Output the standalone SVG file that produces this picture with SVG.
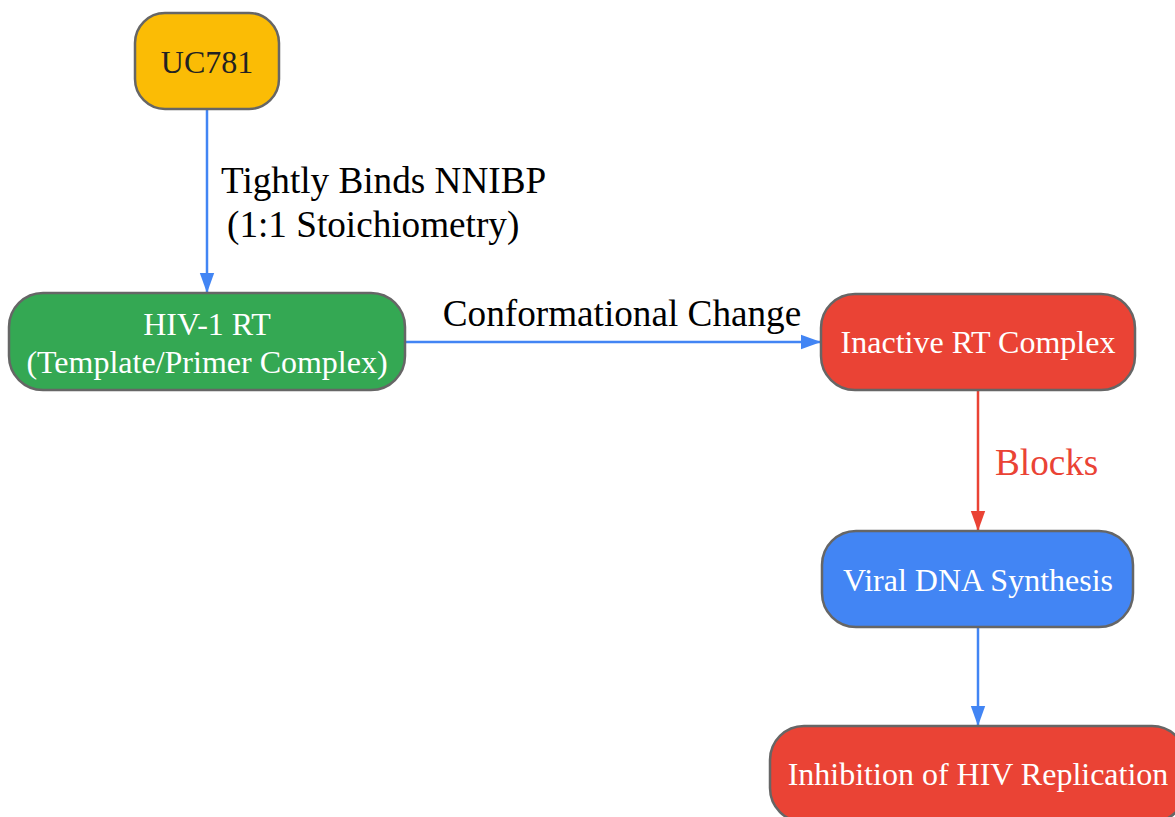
<svg xmlns="http://www.w3.org/2000/svg" width="1175" height="817" viewBox="0 0 1175 817">
<style>
.node rect{stroke:#666666;stroke-width:2.5}
.nt{font-family:"Liberation Serif","Times New Roman",serif;font-size:32px;text-anchor:middle;fill:#ffffff}
.el{font-family:"Liberation Serif","Times New Roman",serif;font-size:37.2px}
.e{fill:none;stroke-width:2.5}
</style>
<defs>
<marker id="ab" markerUnits="userSpaceOnUse" markerWidth="20" markerHeight="26" refX="25" refY="9" viewBox="0 0 25 18" orient="auto"><path d="M0,0 L25,9 L0,18 Z" fill="#4285F4"/></marker>
<marker id="ar" markerUnits="userSpaceOnUse" markerWidth="20" markerHeight="26" refX="25" refY="9" viewBox="0 0 25 18" orient="auto"><path d="M0,0 L25,9 L0,18 Z" fill="#EA4335"/></marker>
</defs>
<rect width="1175" height="817" fill="#ffffff"/>
<g id="connectors">
<path class="e" d="M207,109 L207,293" stroke="#4285F4" marker-end="url(#ab)"/>
<text class="el" x="221" y="193" fill="#000000">Tightly Binds NNIBP</text>
<text class="el" x="227" y="237" fill="#000000">(1:1 Stoichiometry)</text>
<path class="e" d="M405,342 L821,342" stroke="#4285F4" marker-end="url(#ab)"/>
<text class="el" x="622" y="326" text-anchor="middle" fill="#000000">Conformational Change</text>
<path class="e" d="M978,390 L978,531" stroke="#EA4335" marker-end="url(#ar)"/>
<text class="el" x="995" y="475" fill="#EA4335">Blocks</text>
<path class="e" d="M978,627 L978,726" stroke="#4285F4" marker-end="url(#ab)"/>
</g>
<g id="uc781" class="node">
<rect x="135" y="13" width="144" height="96" rx="30" fill="#FBBC05"/>
<text class="nt" x="207" y="73" style="fill:#222222">UC781</text>
</g>
<g id="hiv1rt" class="node">
<rect x="9" y="293" width="396" height="97" rx="34" fill="#34A853"/>
<text class="nt" x="207" y="335">HIV-1 RT</text>
<text class="nt" x="207" y="373">(Template/Primer Complex)</text>
</g>
<g id="inactive" class="node">
<rect x="821" y="294" width="314" height="96" rx="34" fill="#EA4335"/>
<text class="nt" x="978" y="353">Inactive RT Complex</text>
</g>
<g id="viral" class="node">
<rect x="822" y="531" width="311" height="96" rx="34" fill="#4285F4"/>
<text class="nt" x="978" y="591">Viral DNA Synthesis</text>
</g>
<g id="inhibition" class="node">
<rect x="770" y="726" width="416" height="96" rx="34" fill="#EA4335"/>
<text class="nt" x="978" y="785">Inhibition of HIV Replication</text>
</g>
</svg>
